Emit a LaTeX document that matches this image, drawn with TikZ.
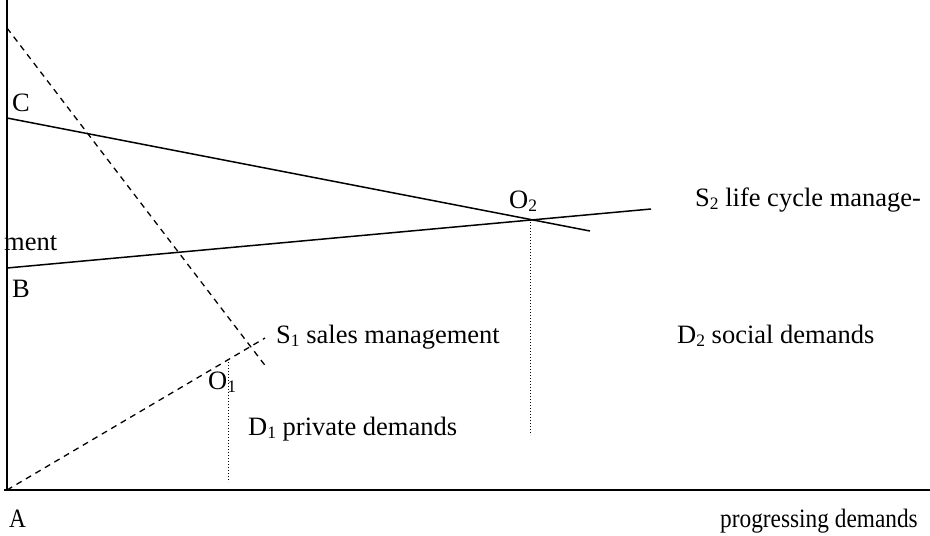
\documentclass[tikz,border=0pt]{standalone}
\usepackage{fontspec}
\setmainfont{Liberation Serif}
\newcommand{\mysub}[1]{\raisebox{-3pt}{\fontsize{17.5}{17.5}\selectfont #1}}
\begin{document}
\begin{tikzpicture}[x=1pt,y=-1pt,
  lbl/.style={anchor=base west,inner sep=0pt,font=\fontsize{26.5}{30}\selectfont},
  axis/.style={line width=1.8pt},
  solidline/.style={line width=1.5pt},
  dashline/.style={line width=1.3pt,dash pattern=on 6pt off 5pt},
  dotline/.style={line width=1pt,dotted}]
\useasboundingbox (0,0) rectangle (930,536);
% coordinates
\coordinate (top) at (7,0);
\coordinate (orig) at (7,490);
\coordinate (xend) at (930,490);
\coordinate (xstart) at (4,490);
\coordinate (c0) at (7,118);
\coordinate (c1) at (590,231);
\coordinate (b0) at (7,268);
\coordinate (b1) at (651,209);
\coordinate (d0) at (7,28);
\coordinate (d1) at (267,368);
\coordinate (s0) at (7,490);
\coordinate (s1) at (265,338);
\coordinate (o1top) at (228,362);
\coordinate (o1bot) at (228,482);
\coordinate (o2top) at (530,219);
\coordinate (o2bot) at (530,435);
% axes
\draw[axis] (top) -- (orig);
\draw[axis] (xstart) -- (xend);
% lines
\draw[solidline] (c0) -- (c1);
\draw[solidline] (b0) -- (b1);
\draw[dashline] (d0) -- (d1);
\draw[dashline] (s0) -- (s1);
\draw[dotline] (o1top) -- (o1bot);
\draw[dotline] (o2top) -- (o2bot);
% labels
\node[lbl] (lC) at (12,111) {C};
\node[lbl] (lB) at (12,297) {B};
\node[lbl] (lment) at (4,250) {ment};
\node[lbl] (lO2) at (509,208) {O\mysub{2}};
\node[lbl] (lS2) at (695,206) {S\mysub{2} life cycle manage-};
\node[lbl] (lS1) at (276,343) {S\mysub{1} sales management};
\node[lbl] (lD2) at (677,343) {D\mysub{2} social demands};
\node[lbl] (lO1) at (208,389) {O\mysub{1}};
\node[lbl] (lD1) at (248,435) {D\mysub{1} private demands};
\node[lbl] (lA) at (9,527) {\scalebox{0.88}[1]{A}};
\node[lbl] (lprog) at (720,527) {\scalebox{0.88}[1]{progressing demands}};
\end{tikzpicture}
\end{document}
